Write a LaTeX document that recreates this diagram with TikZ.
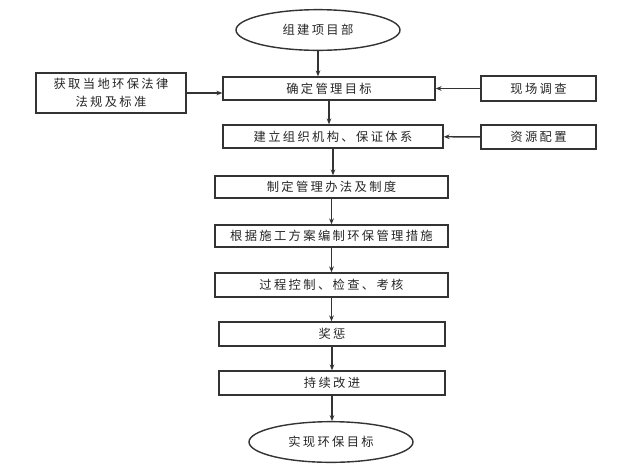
\documentclass[tikz,border=0pt]{standalone}
\usepackage{fontspec}
\newfontfamily\cjk[LetterSpace=19]{Noto Sans CJK SC}
\usetikzlibrary{shapes.geometric,arrows.meta}

\tikzset{
  kuang/.style={draw, rectangle, inner sep=0pt, align=center,
    font=\cjk\fontsize{10.5}{15}\selectfont, text=black!85},
  tuoyuan/.style={draw, ellipse, inner sep=0pt, minimum width=4.92cm,
    minimum height=1.22cm, font=\cjk\fontsize{10.5}{15}\selectfont, text=black!85},
  jiantou/.style={-{Stealth[length=5pt,width=4pt]}}
}

\begin{document}
\begin{tikzpicture}[x=0.03cm, y=-0.03cm, line width=1.2pt, draw=black!80]
\useasboundingbox (0,0) rectangle (627,466);

% 主线
\node[tuoyuan] (start) at (318,30) {组建项目部};
\node[kuang, minimum width=6.36cm, minimum height=0.69cm] (mubiao) at (329,88.5) {确定管理目标};
\node[kuang, minimum width=6.6cm, minimum height=0.69cm] (jigou) at (333,136.5) {建立组织机构、保证体系};
\node[kuang, minimum width=6.99cm, minimum height=0.66cm] (zhidu) at (331.5,187) {制定管理办法及制度};
\node[kuang, minimum width=6.99cm, minimum height=0.66cm] (cuoshi) at (331.5,236) {根据施工方案编制环保管理措施};
\node[kuang, minimum width=6.99cm, minimum height=0.72cm] (kongzhi) at (331.5,285) {过程控制、检查、考核};
\node[kuang, minimum width=6.78cm, minimum height=0.72cm] (jiangcheng) at (332,334) {奖惩};
\node[kuang, minimum width=6.78cm, minimum height=0.72cm] (gaijin) at (332,383) {持续改进};
\node[tuoyuan] (end) at (331,442) {实现环保目标};

% 两侧
\node[kuang, minimum width=4.5cm, minimum height=1.2cm] (fagui) at (111,93) {获取当地环保法律\\法规及标准};
\node[kuang, minimum width=3.45cm, minimum height=0.75cm] (diaocha) at (538.5,88.5) {现场调查};
\node[kuang, minimum width=3.45cm, minimum height=0.72cm] (ziyuan) at (538.5,137) {资源配置};

% 箭头
\draw[jiantou] (start) -- (start |- mubiao.north);
\draw[jiantou] (mubiao) -- (mubiao |- jigou.north);
\draw[jiantou] (jigou) -- (jigou |- zhidu.north);
\draw[jiantou] (zhidu) -- (zhidu |- cuoshi.north);
\draw[jiantou] (cuoshi) -- (cuoshi |- kongzhi.north);
\draw[jiantou] (kongzhi) -- (kongzhi |- jiangcheng.north);
\draw[jiantou] (jiangcheng) -- (jiangcheng |- gaijin.north);
\draw[jiantou] (gaijin) -- (gaijin |- end.north);

\draw[jiantou] (fagui) -- (fagui -| mubiao.west);
\draw[jiantou] (diaocha) -- (diaocha -| mubiao.east);
\draw[jiantou] (ziyuan) -- (jigou);
\end{tikzpicture}
\end{document}
